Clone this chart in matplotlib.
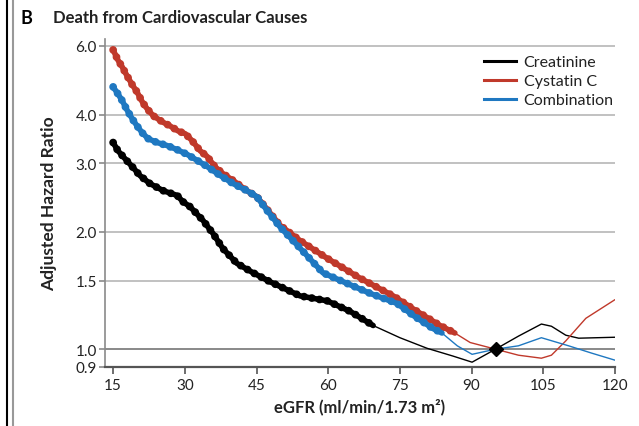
import matplotlib
matplotlib.use("Agg")
import matplotlib.pyplot as plt
from matplotlib.lines import Line2D
import numpy as np

plt.rcParams['font.family'] = ['Lato', 'DejaVu Sans']

# ---------------- data ----------------
series_names = ["Creatinine", "Cystatin C", "Combination"]

egfr_creat = [15, 16.0, 17.5, 19.0, 20.6, 22.7, 25.5, 28.4, 29.6, 31.1, 33.8, 35.9,
              38.0, 40.9, 44.3, 47.8, 51.4, 54.1, 59.8, 64.6, 69.4,
              75.0, 80.7, 86.1, 90.1, 95.0, 99.8, 104.6, 106.7, 109.7, 112.4, 120.0]
hr_creat = [3.39, 3.23, 3.08, 2.94, 2.79, 2.66, 2.55, 2.48, 2.39, 2.32, 2.14, 1.98,
            1.81, 1.66, 1.57, 1.49, 1.42, 1.37, 1.33, 1.25, 1.15,
            1.07, 1.005, 0.96, 0.926, 1.00, 1.08, 1.16, 1.145, 1.086, 1.067, 1.073]

egfr_cys = [15, 16.0, 16.9, 17.9, 19.0, 20.0, 21.1, 22.1, 23.4, 25.3, 26.9, 28.6, 30.1,
            31.5, 33.2, 34.7, 36.3, 38.0, 40.1, 43.0, 45.1, 49.9, 54.1, 59.8, 66.7,
            73.6, 78.6, 83.4, 86.5,
            89.7, 95.0, 99.8, 104.6, 106.7, 109.7, 113.9, 120.0]
hr_cys = [5.86, 5.52, 5.30, 5.03, 4.77, 4.57, 4.31, 4.14, 3.97, 3.83, 3.74, 3.63, 3.57,
          3.43, 3.23, 3.12, 2.94, 2.82, 2.71, 2.55, 2.46, 2.08, 1.90, 1.71, 1.52,
          1.37, 1.25, 1.15, 1.10,
          1.04, 1.00, 0.965, 0.948, 0.965, 1.05, 1.20, 1.34]

egfr_comb = [15, 16.0, 16.9, 17.9, 19.0, 20.0, 21.1, 22.3, 24.2, 26.3, 28.4, 30.5, 32.6,
             34.7, 37.4, 40.1, 43.0, 45.1, 47.2, 49.9, 53.5, 58.9, 63.1, 68.8, 74.4,
             77.8, 81.9, 83.8,
             87.0, 90.1, 95.0, 99.8, 104.6, 110.3, 115.1, 120.0]
hr_comb = [4.71, 4.52, 4.34, 4.11, 3.90, 3.74, 3.59, 3.47, 3.39, 3.33, 3.25, 3.16, 3.05,
           2.94, 2.79, 2.66, 2.55, 2.46, 2.27, 2.06, 1.85, 1.57, 1.49, 1.39, 1.31,
           1.22, 1.13, 1.10,
           1.02, 0.97, 1.00, 1.02, 1.07, 1.02, 0.977, 0.937]

# eGFR where the dotted (significant) portion ends
dots_end = [69.4, 86.5, 83.8]

reference_egfr = 95
reference_hr = 1.0

x_ticks = [15, 30, 45, 60, 75, 90, 105, 120]
y_ticks = [0.9, 1.0, 1.5, 2.0, 3.0, 4.0, 6.0]
y_ticklabels = ["0.9", "1.0", "1.5", "2.0", "3.0", "4.0", "6.0"]

colors = ["#000000", "#C0392B", "#1F78C1"]

# ---------------- figure ----------------
fig = plt.figure(figsize=(6.39, 4.27), dpi=100)
ax = fig.add_axes([105/639, 1-368/427, (615-105)/639, (368-40)/427])

ax.set_yscale('log')
ax.set_xlim(13.3, 120)
ax.set_ylim(0.9, 6.25)

# grid lines
for yv in y_ticks[2:]:
    ax.axhline(yv, color="#b0b0b0", lw=1.1, zorder=1)
ax.axhline(1.0, color="#808080", lw=1.3, zorder=1)

xs_all = [egfr_creat, egfr_cys, egfr_comb]
ys_all = [hr_creat, hr_cys, hr_comb]
for i in [0, 1, 2]:
    x = np.array(xs_all[i]); y = np.array(ys_all[i])
    m_dot = x <= dots_end[i] + 1e-9
    m_thin = x >= dots_end[i] - 1e-9
    ax.plot(x[m_thin], y[m_thin], color=colors[i], lw=1.0, zorder=3 + i,
            solid_capstyle='round')
    ax.plot(x[m_dot], y[m_dot], color=colors[i], lw=4.0, zorder=3 + i,
            solid_capstyle='round', solid_joinstyle='round')
    ax.plot(x[m_dot], y[m_dot], color=colors[i], lw=5.6, zorder=3 + i,
            linestyle=(0, (0.01, 1.0)), dash_capstyle='round')

ax.plot([reference_egfr], [reference_hr], marker='D', color='black', ms=7.5, zorder=10,
        linestyle='none')

ax.set_xticks(x_ticks)
ax.set_xticklabels([str(t) for t in x_ticks])
ax.set_yticks(y_ticks)
ax.set_yticklabels(y_ticklabels)
ax.yaxis.set_minor_locator(matplotlib.ticker.NullLocator())

for s in ['top', 'right']:
    ax.spines[s].set_visible(False)
ax.spines['left'].set_color('#8a8a8a')
ax.spines['left'].set_linewidth(1.2)
ax.spines['bottom'].set_color('#555555')
ax.spines['bottom'].set_linewidth(1.6)
ax.tick_params(axis='y', direction='out', length=4, width=1.2, color='#8a8a8a',
               labelsize=11, pad=2, labelcolor='#222222')
ax.tick_params(axis='x', direction='out', length=5, width=1.2, color='#555555',
               labelsize=11, pad=3, labelcolor='#222222')

ax.set_xlabel("eGFR (ml/min/1.73 m\u00b2)", fontsize=12, fontweight='bold', labelpad=4,
              color='#222222')
ax.set_ylabel("Adjusted Hazard Ratio", fontsize=12.5, fontweight='bold', labelpad=13,
              color='#222222')

handles = [Line2D([0], [0], color=c, lw=2.2) for c in colors]
leg = ax.legend(handles, series_names, loc='upper right', frameon=False, fontsize=11.5,
                handlelength=2.0, handletextpad=0.5, labelspacing=0.3,
                bbox_to_anchor=(1.01, 0.97), borderaxespad=0.0)
for t in leg.get_texts():
    t.set_color('#222222')

fig.text(20/639, 1-18/427, "B", fontsize=13, fontweight='bold', va='center', ha='left')
fig.text(53/639, 1-18/427, "Death from Cardiovascular Causes", fontsize=12,
         fontweight='bold', va='center', ha='left', color='#222222')

# panel border lines on the left
fig.add_artist(Line2D([7/639, 7/639], [0, 1], color='black', lw=1.5,
                      transform=fig.transFigure))
fig.add_artist(Line2D([12.5/639, 12.5/639], [0, 1], color='#999999', lw=1.5,
                      transform=fig.transFigure))

fig.savefig("out.png", dpi=100)
